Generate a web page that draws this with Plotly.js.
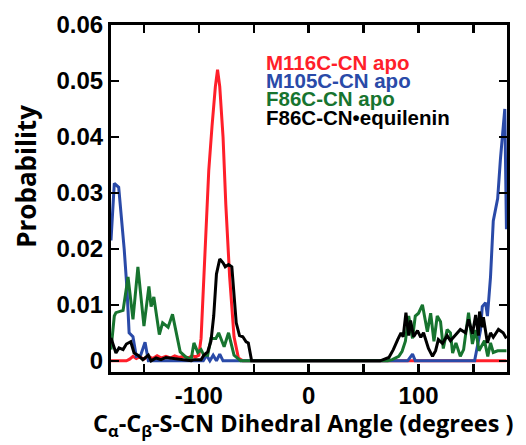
<!DOCTYPE html>
<html>
<head>
<meta charset="utf-8">
<script src="https://cdn.plot.ly/plotly-3.0.1.min.js"></script>
<style>html,body{margin:0;padding:0;background:#fff;}#chart{width:526px;height:445px;}</style>
</head>
<body>
<div id="chart"></div>
<script>
// Series names
const seriesNames = ["M116C-CN apo", "M105C-CN apo", "F86C-CN apo", "F86C-CN\u2022equilenin"];

// M116C-CN apo (red)
const xRed = [-180,-166,-163,-160,-157,-154,-150,-146,-142,-138,-134,-130,-126,-122,-118,-114,-110,-106,-103,-100,-98,-96,-94,-91,-88,-85,-83,-81,-78,-75.5,-72,-68,-64,-60,180];
const yRed = [0,0,0.0003,0.0008,0.0004,0.0007,0.0003,0.0008,0.0004,0.0009,0.0005,0.0008,0.0005,0.0009,0.0006,0.0008,0.0005,0.0009,0.0007,0.001,0.004,0.012,0.021,0.034,0.042,0.049,0.052,0.049,0.040,0.028,0.015,0.0043,0.0005,0,0];

// M105C-CN apo (blue)
const xBlue = [-180,-177,-173,-170,-168,-165.5,-163.5,-160,-157,-153,-149,-146,-96,-93,-90,-87,-84,-81,-78,-75,90,94.5,97,151,153.6,156.4,158,161,162.7,165.5,168,172,174.5,176.4,178.5,180];
const yBlue = [0.0215,0.0317,0.031,0.025,0.020,0.013,0.005,0.0043,0.0008,0.001,0.0033,0,0,0.001,0,0.001,0,0.0012,0,0,0,0.0012,0,0,0.003,0.0055,0.0097,0.0104,0.008,0.015,0.025,0.029,0.036,0.040,0.045,0.0235];

// F86C-CN apo (green)
const xGreen = [-180,-177,-175.5,-169,-164.5,-160,-155.5,-150,-145.5,-143.5,-141,-136,-133,-128,-124,-120,-117,-112,-107,-104.5,-101,-98,-95.5,-92,-89,-84.5,-82,-77,-73,-68,-62,72,76,82,85,88,91,94.5,97,100,103.5,108,111,114,117,120,122.5,126,129,131,134,138,141,145.5,149,152,155,160,163,165.5,168,172,175,180];
const yGreen = [0.002,0.008,0.0086,0.009,0.015,0.0074,0.0168,0.0062,0.0133,0.0097,0.0114,0.0047,0.0068,0.006,0.0083,0.0043,0.0016,0.0007,0.0003,0.0032,0.0015,0.002,0.001,0.001,0.004,0.004,0.005,0.0025,0.005,0.001,0,0,0.0002,0.0008,0.0017,0.0035,0.008,0.004,0.008,0.0085,0.010,0.0052,0.0085,0.0035,0.008,0.007,0.0022,0.0056,0.005,0.0014,0.0032,0.0008,0.002,0.0086,0.003,0.0055,0.0018,0.0036,0.0008,0.0032,0.0015,0.0018,0.0018,0.0018];

// F86C-CN·equilenin (black)
const xBlack = [-180,-175.5,-172.7,-169,-166,-162,-159,-155.5,-151,-146,-143.5,-139,-134.5,-130,-107,-104.5,-98,-95.5,-92,-89,-86.5,-84,-81,-78,-76,-73,-70,-68,-66,-63,-60,-57,-55,-52,65,73,77,81,84,86,88.5,91,92.7,95.5,99,102,104.5,109,112.7,115.5,118,121.8,126,129,133.6,138,142.7,145.5,149,152,154.5,155.5,158,159,162.7,165.5,168,172.7,177,180];
const yBlack = [0.0041,0.0014,0.0023,0.002,0.003,0.0034,0.0014,0.001,0.0002,0.001,0,0.0005,0.0002,0.0006,0,0.0002,0.0002,0.001,0.0016,0.0035,0.008,0.0155,0.0182,0.0175,0.0168,0.0172,0.0168,0.011,0.0068,0.0045,0.0043,0.0034,0.0032,0,0,0.0006,0.002,0.0038,0.005,0.0043,0.0086,0.0045,0.0072,0.0043,0.0054,0.0042,0.005,0.0022,0.0008,0.0018,0.0038,0.0031,0.0045,0.0036,0.0047,0.0056,0.005,0.0074,0.0048,0.0082,0.0045,0.0088,0.006,0.0078,0.0032,0.005,0.0042,0.0056,0.005,0.004];

// Tick labels
const xTickVals = [-100,0,100];
const xTickText = ["-100","0","100"];
const xMinorVals = [-150,-50,50,150];
const yTickVals = [0,0.01,0.02,0.03,0.04,0.05,0.06];
const yTickText = ["0","0.01","0.02","0.03","0.04","0.05","0.06"];

const colors = ["#ff1f2a", "#2a4aa8", "#17742f", "#000000"];

const traces = [
  {x: xRed, y: yRed, name: seriesNames[0], mode: "lines", line: {color: colors[0], width: 3}},
  {x: xBlue, y: yBlue, name: seriesNames[1], mode: "lines", line: {color: colors[1], width: 3}},
  {x: xGreen, y: yGreen, name: seriesNames[2], mode: "lines", line: {color: colors[2], width: 3}},
  {x: xBlack, y: yBlack, name: seriesNames[3], mode: "lines", line: {color: colors[3], width: 3}}
];

const tickFont = {family: "Liberation Sans, Arial, sans-serif", size: 24, color: "#000", weight: "bold"};
const xTitleFont = {family: "Open Sans, sans-serif", size: 23.5, color: "#000", weight: "bold"};
const yTitleFont = {family: "Open Sans, sans-serif", size: 26, color: "#000", weight: "bold"};
const legFont = {family: "Liberation Sans, Arial, sans-serif", size: 20.5, weight: "bold"};

const legY = [0.893, 0.839, 0.787, 0.732];
const annotations = seriesNames.map((n, i) => ({
  text: n, xref: "paper", yref: "paper", x: 0.387, y: legY[i],
  xanchor: "left", yanchor: "middle", showarrow: false,
  font: Object.assign({}, legFont, {color: colors[i]})
}));
annotations.push({
  text: "Probability", xref: "paper", yref: "paper", x: -0.215, y: 0.565,
  xanchor: "center", yanchor: "middle", textangle: -90, showarrow: false,
  font: yTitleFont
});
annotations.push({
  text: "C<sub>α</sub>-C<sub>β</sub>-S-CN Dihedral Angle (degrees )", xref: "paper", yref: "paper",
  x: 0.487, y: -0.15, xanchor: "center", yanchor: "middle", showarrow: false,
  font: xTitleFont
});

const layout = {
  width: 526, height: 445,
  margin: {l: 111, r: 19, t: 25, b: 73},
  paper_bgcolor: "#fff", plot_bgcolor: "#fff",
  showlegend: false,
  xaxis: {
    range: [-180, 180.5], tickmode: "array", tickvals: xTickVals, ticktext: xTickText,
    ticks: "inside", ticklen: 8, tickwidth: 2.5, tickcolor: "#000",
    minor: {tickmode: "array", tickvals: xMinorVals, ticks: "inside", ticklen: 8, tickwidth: 2.5, tickcolor: "#000", showgrid: false},
    showline: true, linewidth: 3, linecolor: "#000", mirror: "ticks",
    showgrid: false, zeroline: false, tickfont: tickFont
  },
  yaxis: {
    range: [-0.002, 0.06], tickvals: yTickVals, ticktext: yTickText,
    ticks: "inside", ticklen: 8, tickwidth: 2.5, tickcolor: "#000",
    showline: true, linewidth: 3, linecolor: "#000", mirror: "ticks",
    showgrid: false, zeroline: false, tickfont: tickFont
  },
  annotations: annotations
};

Plotly.newPlot("chart", traces, layout, {staticPlot: true, displayModeBar: false});
</script>
</body>
</html>
